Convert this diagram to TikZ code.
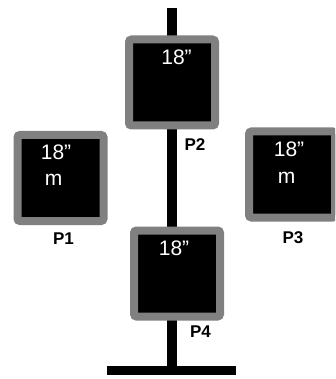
\documentclass[tikz,border=0pt]{standalone}
\usepackage{fontspec}
\setmainfont{Liberation Sans}
\usetikzlibrary{shadows}
\definecolor{frame}{HTML}{808080}
\tikzset{
  panel/.style={draw=frame, line width=8pt, fill=black, rounded corners=2.5pt,
    minimum width=86pt, minimum height=86pt, inner sep=0pt,
    drop shadow={opacity=0.18, shadow xshift=0pt, shadow yshift=-3pt}},
  size/.style={text=white, font=\fontsize{21}{21}\selectfont, anchor=base, inner sep=0pt},
  tag/.style={font=\bfseries\fontsize{17}{17}\selectfont, anchor=base, inner sep=0pt},
  post/.style={line width=10pt},
  foot/.style={line width=9pt}
}
\begin{document}
\begin{tikzpicture}[x=1pt, y=-1pt]
  \clip (0,0) rectangle (335,379);
  \fill[white] (0,0) rectangle (335,379);
  % the stand
  \coordinate (poletop) at (172,8);
  \coordinate (polefoot) at (172,366);
  \coordinate (footleft) at (107,370.5);
  \coordinate (footright) at (236,370.5);
  \draw[post] (poletop) -- (polefoot);
  % the four panels
  \node[panel] (p2box) at (172,82.5) {};
  \node[panel] (p1box) at (60.5,178) {};
  \node[panel] (p3box) at (292,174.5) {};
  \node[panel] (p4box) at (177,273.5) {};
  \draw[foot] (footleft) -- (footright);
  % sizes inside the panels
  \node[size] (p2size) at (176.5,64.5) {18”};
  \node[size] (p1size) at (56,159.5) {18”};
  \node[size] (p1unit) at (53.5,185) {m};
  \node[size] (p3size) at (289,156.5) {18”};
  \node[size] (p3unit) at (286.5,183) {m};
  \node[size] (p4size) at (174,255) {18”};
  % panel labels
  \node[tag] (p2tag) at (195,150) {P2};
  \node[tag] (p1tag) at (63.5,244.5) {P1};
  \node[tag] (p3tag) at (293,243) {P3};
  \node[tag] (p4tag) at (200.5,337.5) {P4};
\end{tikzpicture}
\end{document}
